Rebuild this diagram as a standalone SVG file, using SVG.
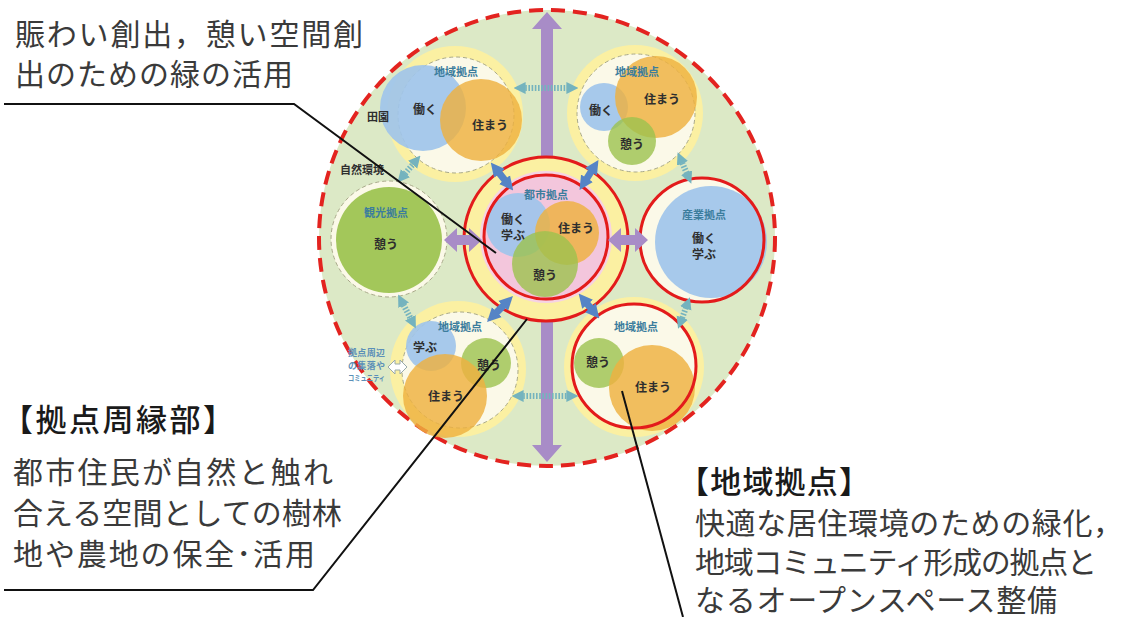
<svg xmlns="http://www.w3.org/2000/svg" width="1128" height="617" viewBox="0 0 1128 617">
<defs>
<style>
.jp{font-family:"Noto Sans CJK JP","Noto Sans",sans-serif}
.big{font-size:30px;fill:#3a3a3a}
.head{font-size:31px;fill:#1a1a1a;font-weight:500}
.lbl{font-size:11px;fill:#3c7d9d;font-weight:700;text-anchor:middle}
.fn{font-size:12px;fill:#2e2e2e;font-weight:700;text-anchor:middle}
.yel{fill:#fbf0a2}
.cream{fill:#fbf9e8;stroke:#a9a98a;stroke-width:1;stroke-dasharray:4 3}
.blue{fill:#9fc4ea;opacity:0.92}
.org{fill:#eeb13f;opacity:0.82}
.grn{fill:#9cc24e;opacity:0.8}
.red{fill:none;stroke:#e31b1b;stroke-width:3}
.leader{fill:none;stroke:#111;stroke-width:2}
.bl{stroke:#5584c6;stroke-width:7;fill:none}
.dot{stroke:#74b3be;stroke-width:6;stroke-dasharray:1.6 1.6;fill:none}
</style>
<marker id="bh" viewBox="0 0 10 10" refX="4" refY="5" markerWidth="2" markerHeight="2.2" orient="auto-start-reverse" markerUnits="strokeWidth"><path d="M0,0 L10,5 L0,10 Z" fill="#5584c6"/></marker>
<marker id="th" viewBox="0 0 10 10" refX="3" refY="5" markerWidth="2" markerHeight="2.2" orient="auto-start-reverse" markerUnits="strokeWidth"><path d="M0,0 L10,5 L0,10 Z" fill="#74b3be"/></marker>
</defs>
<rect width="1128" height="617" fill="#ffffff"/>

<g id="region">
<circle cx="547" cy="238" r="228" fill="#dce9c6" stroke="#e3231f" stroke-width="4" stroke-dasharray="14 8"/>
</g>

<g id="axis">
<polygon points="547,12 562,29 553,29 553,445 562,445 547,462 532,445 541,445 541,29 532,29" fill="#a88cc7"/>
</g>

<g id="node-tl">
<circle cx="455" cy="114" r="68" class="yel"/>
<circle cx="456" cy="115" r="58" class="cream"/>
<circle cx="423" cy="108" r="43" class="blue"/>
<circle cx="481" cy="120" r="41" class="org"/>
<text x="456" y="76" class="jp lbl">地域拠点</text>
<text x="425" y="114" class="jp fn">働く</text>
<text x="490" y="130" class="jp fn">住まう</text>
<text x="378" y="121" class="jp fn" style="font-size:11px">田園</text>
</g>

<g id="node-tr">
<circle cx="635" cy="113" r="68" class="yel"/>
<circle cx="636" cy="113" r="59" class="cream"/>
<circle cx="604" cy="107" r="24" class="blue"/>
<circle cx="656" cy="97" r="41" class="org"/>
<circle cx="632" cy="141" r="24" class="grn"/>
<text x="637" y="76" class="jp lbl">地域拠点</text>
<text x="601" y="115" class="jp fn">働く</text>
<text x="662" y="104" class="jp fn">住まう</text>
<text x="632" y="149" class="jp fn">憩う</text>
</g>

<g id="node-left">
<circle cx="389" cy="239" r="58" fill="#fbf9e8" stroke="#a9a98a" stroke-width="1" stroke-dasharray="4 3"/>
<circle cx="389" cy="240" r="53" fill="#a3c75a"/>
<text x="386" y="217" class="jp lbl">観光拠点</text>
<text x="386" y="249" class="jp fn">憩う</text>
<text x="362" y="174" class="jp fn" style="font-size:11px">自然環境</text>
</g>

<g id="node-center">
<circle cx="546" cy="239" r="82" class="yel"/>
<circle cx="546" cy="237" r="66" fill="#f6d3e3"/>
<circle cx="546" cy="237" r="62" fill="#f3c6dc"/>
<circle cx="518" cy="225" r="32" class="blue"/>
<circle cx="567" cy="233" r="32" class="org"/>
<circle cx="545" cy="264" r="33" class="grn"/>
<circle cx="546" cy="239" r="82" class="red"/>
<circle cx="546" cy="237" r="62" class="red"/>
<text x="546" y="199" class="jp lbl">都市拠点</text>
<text x="513" y="224" class="jp fn">働く</text>
<text x="513" y="240" class="jp fn">学ぶ</text>
<text x="576" y="233" class="jp fn">住まう</text>
<text x="545" y="280" class="jp fn">憩う</text>
</g>

<g id="node-right">
<circle cx="702" cy="240" r="62" fill="#fbf9e8"/>
<circle cx="711" cy="242" r="56" class="blue"/>
<circle cx="702" cy="240" r="62" class="red"/>
<text x="704" y="219" class="jp lbl">産業拠点</text>
<text x="704" y="243" class="jp fn">働く</text>
<text x="704" y="259" class="jp fn">学ぶ</text>
</g>

<g id="node-bl">
<circle cx="458" cy="369" r="68" class="yel"/>
<circle cx="460" cy="370" r="58" class="cream"/>
<circle cx="431" cy="346" r="25" class="blue"/>
<circle cx="486" cy="363" r="25" class="grn"/>
<circle cx="445" cy="396" r="42" class="org"/>
<text x="460" y="331" class="jp lbl">地域拠点</text>
<text x="425" y="352" class="jp fn">学ぶ</text>
<text x="489" y="370" class="jp fn">憩う</text>
<text x="446" y="401" class="jp fn">住まう</text>
</g>

<g id="node-br">
<circle cx="634" cy="367" r="70" class="yel"/>
<circle cx="634" cy="366" r="62" fill="#fbf9e8"/>
<circle cx="599" cy="363" r="25" class="grn"/>
<circle cx="652" cy="388" r="43" class="org"/>
<circle cx="634" cy="366" r="62" class="red"/>
<text x="636" y="331" class="jp lbl">地域拠点</text>
<text x="598" y="367" class="jp fn">憩う</text>
<text x="653" y="392" class="jp fn">住まう</text>
</g>

<g id="periphery-note">
<text x="348" y="356" class="jp" style="font-size:9px;fill:#5b8fb8;font-weight:700" textLength="37">拠点周辺</text>
<text x="348" y="369" class="jp" style="font-size:9px;fill:#5b8fb8;font-weight:700" textLength="37">の集落や</text>
<text x="348" y="381" class="jp" style="font-size:7.5px;fill:#5b8fb8;font-weight:700" textLength="37" lengthAdjust="spacingAndGlyphs">コミュニティ</text>
</g>

<g id="connectors">
<polygon points="444,240 457,228 457,235 469,235 469,228 482,240 469,252 469,245 457,245 457,252" fill="#a88cc7"/>
<polygon points="608,240 621,228 621,235 635,235 635,228 648,240 635,252 635,245 621,245 621,252" fill="#a88cc7"/>
<line x1="496" y1="169" x2="508" y2="184" class="bl" marker-start="url(#bh)" marker-end="url(#bh)"/>
<line x1="594" y1="167" x2="584" y2="183" class="bl" marker-start="url(#bh)" marker-end="url(#bh)"/>
<line x1="507" y1="302" x2="493" y2="316" class="bl" marker-start="url(#bh)" marker-end="url(#bh)"/>
<line x1="584" y1="300" x2="594" y2="312" class="bl" marker-start="url(#bh)" marker-end="url(#bh)"/>
<line x1="522" y1="88" x2="570" y2="88" class="dot" marker-start="url(#th)" marker-end="url(#th)"/>
<line x1="403" y1="176" x2="415" y2="162" class="dot" marker-start="url(#th)" marker-end="url(#th)"/>
<line x1="402" y1="302" x2="412" y2="321" class="dot" marker-start="url(#th)" marker-end="url(#th)"/>
<line x1="520" y1="396" x2="570" y2="396" class="dot" marker-start="url(#th)" marker-end="url(#th)"/>
<line x1="681" y1="321" x2="687" y2="305" class="dot" marker-start="url(#th)" marker-end="url(#th)"/>
<line x1="681" y1="160" x2="688" y2="176" class="dot" marker-start="url(#th)" marker-end="url(#th)"/>
<polygon points="388,367 395,360 395,364 400,364 400,360 407,367 400,374 400,370 395,370 395,374" fill="#ffffff" stroke="#9aa" stroke-width="1"/>
</g>

<g id="leaders">
<polyline points="4,104 294,104 496,253" class="leader"/>
<polyline points="4,590 313,590 527,319" class="leader"/>
<line x1="622" y1="391" x2="683" y2="617" class="leader"/>
</g>

<g id="texts">
<text x="15" y="45" class="jp big" textLength="348">賑わい創出，憩い空間創</text>
<text x="15" y="85" class="jp big" textLength="278">出のための緑の活用</text>
<text x="2" y="431" class="jp head" textLength="232">【拠点周縁部】</text>
<text x="13" y="483" class="jp big" textLength="320">都市住民が自然と触れ</text>
<text x="13" y="524" class="jp big" textLength="329">合える空間としての樹林</text>
<text x="13" y="565" class="jp big" textLength="302">地や農地の保全･活用</text>
<text x="678" y="493" class="jp head" textLength="192">【地域拠点】</text>
<text x="695" y="534" class="jp big" textLength="428">快適な居住環境のための緑化，</text>
<text x="695" y="573" class="jp big" textLength="402">地域コミュニティ形成の拠点と</text>
<text x="695" y="611" class="jp big" textLength="362">なるオープンスペース整備</text>
</g>
</svg>
